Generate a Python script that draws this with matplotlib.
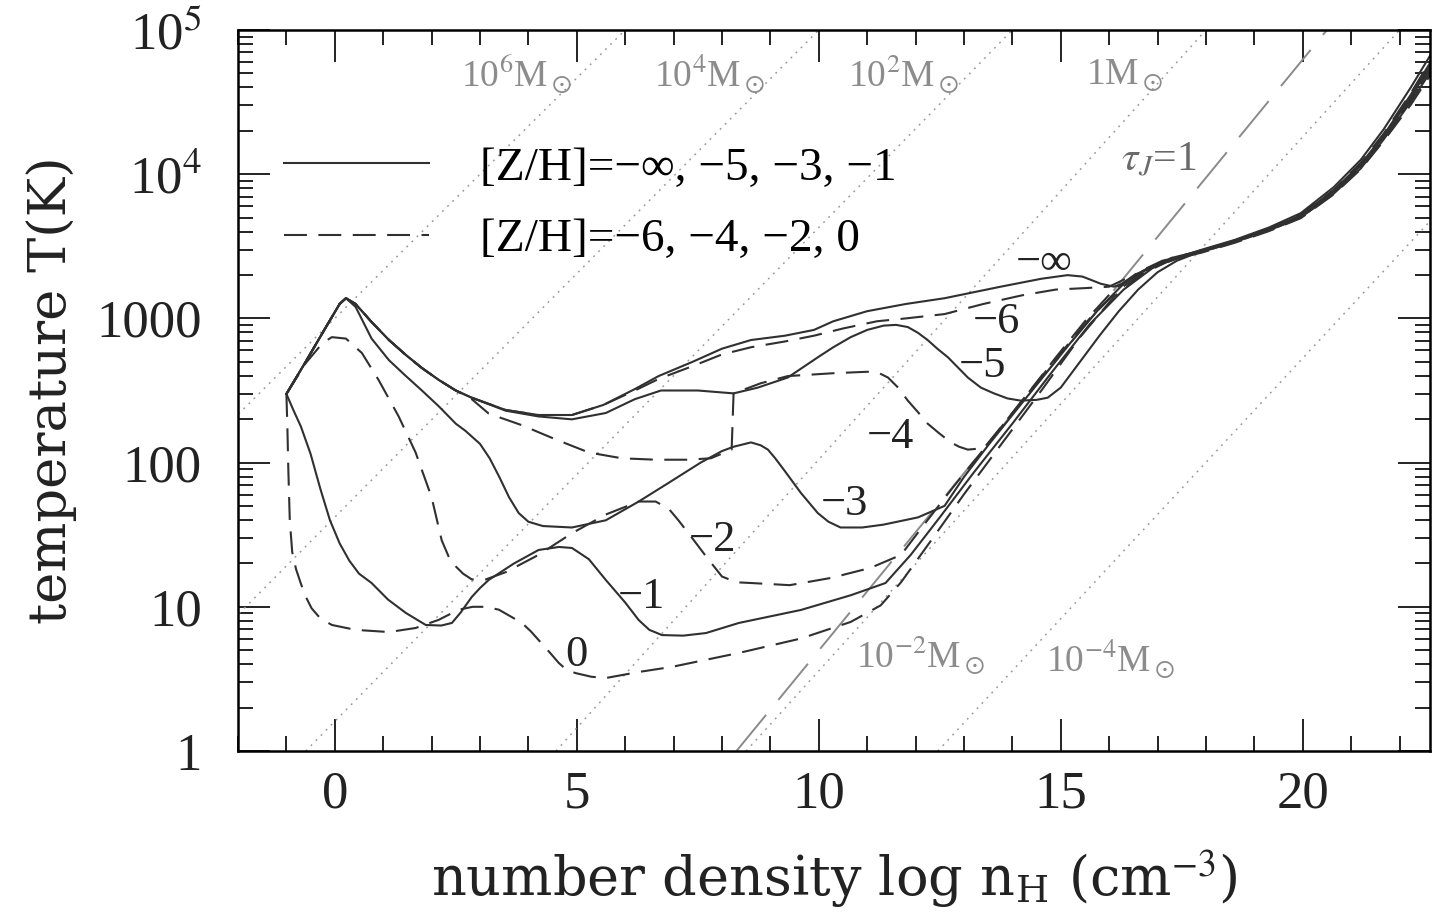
import numpy as np
import matplotlib.pyplot as plt
from matplotlib.lines import Line2D
from matplotlib.ticker import FixedLocator, FixedFormatter, MultipleLocator, LogLocator, NullFormatter

plt.rcParams['font.family'] = ['Liberation Serif', 'DejaVu Serif']
plt.rcParams['mathtext.fontset'] = 'stix'

# log n_H and log T, one pair of lists per metallicity
x_minf = [-1.0, -0.6, -0.2, 0.1, 0.23, 0.43, 0.76, 1.12, 1.47, 1.8, 2.15, 2.5, 2.83, 3.53, 4.21, 4.9, 5.55, 6.2,
          6.69, 7.4, 8.0, 8.6, 9.3, 9.9, 10.3, 11.0, 11.8, 12.6, 13.76, 14.6, 15.14, 15.45, 15.83, 16.1, 16.24, 16.7,
          17.2, 17.9, 18.6, 19.3, 19.96, 20.64, 21.2, 21.67, 22.23, 22.7]
lt_minf = [2.476, 2.70, 2.93, 3.10, 3.14, 3.10, 2.975, 2.85, 2.746, 2.656, 2.573, 2.50, 2.45, 2.365, 2.33, 2.33, 2.40,
           2.51, 2.60, 2.70, 2.79, 2.85, 2.88, 2.92, 2.98, 3.05, 3.10, 3.14, 3.22, 3.275, 3.30, 3.29, 3.24, 3.22, 3.235,
           3.33, 3.40, 3.475, 3.545, 3.63, 3.73, 3.91, 4.10, 4.31, 4.60, 4.86]

x_m6 = [-1.0, -0.6, -0.2, 0.1, 0.23, 0.43, 0.76, 1.12, 1.47, 1.8, 2.15, 2.5, 2.83, 3.53, 4.21, 4.9, 5.55, 6.2, 6.69,
        7.4, 8.0, 8.6, 9.3, 9.9, 10.5, 11.2, 11.8, 12.6, 13.4, 14.2, 14.9, 15.5, 16.0, 16.5, 17.2, 17.9, 18.6, 19.3,
        19.96, 20.64, 21.2, 21.67, 22.23, 22.7]
lt_m6 = [2.476, 2.70, 2.93, 3.10, 3.14, 3.10, 2.975, 2.85, 2.746, 2.656, 2.573, 2.50, 2.45, 2.365, 2.33, 2.33, 2.40,
         2.50, 2.58, 2.67, 2.75, 2.80, 2.84, 2.88, 2.93, 2.98, 3.00, 3.03, 3.10, 3.16, 3.20, 3.21, 3.22, 3.30, 3.39,
         3.47, 3.54, 3.62, 3.72, 3.89, 4.08, 4.28, 4.56, 4.82]

x_m5 = [-1.0, -0.6, -0.2, 0.1, 0.23, 0.43, 0.76, 1.12, 1.47, 1.8, 2.15, 2.5, 2.83, 3.53, 4.21, 4.9, 5.6, 6.2, 6.74,
        7.5, 8.24, 8.74, 9.36, 9.98, 10.3, 10.66, 11.0, 11.34, 11.6, 11.84, 12.05, 12.25, 12.45, 12.67, 13.08, 13.35,
        13.62, 13.9, 14.17, 14.5, 14.73, 15.0, 15.4, 15.8, 16.2, 16.6, 17.0, 17.4, 17.9, 18.6, 19.3, 19.96, 20.64,
        21.2, 21.67, 22.23, 22.7]
lt_m5 = [2.476, 2.70, 2.93, 3.10, 3.14, 3.10, 2.975, 2.85, 2.746, 2.656, 2.573, 2.50, 2.45, 2.36, 2.32, 2.30, 2.344,
         2.44, 2.50, 2.50, 2.48, 2.52, 2.59, 2.73, 2.80, 2.87, 2.92, 2.95, 2.955, 2.94, 2.90, 2.85, 2.79, 2.73, 2.59,
         2.52, 2.48, 2.445, 2.43, 2.435, 2.45, 2.52, 2.70, 2.88, 3.05, 3.20, 3.32, 3.40, 3.465, 3.535, 3.615, 3.71,
         3.88, 4.06, 4.26, 4.53, 4.79]

x_m4 = [-1.0, -0.6, -0.2, 0.1, 0.23, 0.43, 0.76, 1.12, 1.47, 1.8, 2.15, 2.5, 2.83, 3.18, 3.86, 4.57, 5.25, 5.93, 6.63,
        7.3, 7.77, 8.2, 8.24, 8.8, 9.36, 10.31, 11.01, 11.25, 11.43, 11.64, 11.84, 12.05, 12.25, 12.5, 12.73, 12.9,
        13.08, 13.41, 13.8, 14.3, 14.9, 15.5, 16.1, 16.6, 17.1, 17.9, 18.6, 19.3, 19.96, 20.64, 21.2, 21.67, 22.23,
        22.7]
lt_m4 = [2.476, 2.70, 2.93, 3.10, 3.14, 3.10, 2.975, 2.85, 2.746, 2.656, 2.573, 2.50, 2.44, 2.34, 2.26, 2.16, 2.07,
         2.03, 2.02, 2.02, 2.03, 2.09, 2.48, 2.55, 2.60, 2.62, 2.63, 2.62, 2.59, 2.52, 2.43, 2.35, 2.27, 2.20, 2.14,
         2.11, 2.09, 2.10, 2.26, 2.47, 2.73, 2.98, 3.20, 3.32, 3.40, 3.46, 3.53, 3.61, 3.70, 3.87, 4.05, 4.25, 4.51,
         4.77]

x_m3 = [-1.0, -0.6, -0.2, 0.1, 0.23, 0.43, 0.76, 1.12, 1.47, 1.8, 2.15, 2.5, 2.7, 3.0, 3.2, 3.4, 3.6, 3.8, 4.0, 4.3,
        4.9, 5.6, 6.28, 6.9, 7.56, 8.0, 8.24, 8.6, 8.8, 8.95, 9.1, 9.28, 9.63, 9.98, 10.2, 10.45, 10.9, 11.34, 12.05,
        12.6, 13.0, 13.5, 14.0, 14.6, 15.2, 15.8, 16.3, 16.8, 17.3, 17.9, 18.6, 19.3, 19.96, 20.64, 21.2, 21.67,
        22.23, 22.7]
lt_m3 = [2.476, 2.70, 2.93, 3.10, 3.14, 3.08, 2.86, 2.71, 2.60, 2.50, 2.39, 2.27, 2.22, 2.13, 2.03, 1.90, 1.76, 1.65,
         1.59, 1.56, 1.55, 1.60, 1.73, 1.86, 2.0, 2.08, 2.11, 2.14, 2.12, 2.09, 2.03, 1.95, 1.79, 1.65, 1.59, 1.55,
         1.55, 1.57, 1.62, 1.70, 1.90, 2.12, 2.33, 2.58, 2.83, 3.07, 3.24, 3.35, 3.42, 3.47, 3.54, 3.62, 3.715, 3.89,
         4.07, 4.27, 4.55, 4.81]

x_m2 = [-1.0, -0.6, -0.25, -0.06, 0.23, 0.56, 0.91, 1.32, 1.67, 2.0, 2.21, 2.35, 2.5, 2.65, 2.83, 3.12, 3.53, 4.21,
        4.9, 5.6, 6.28, 6.63, 6.9, 7.1, 7.4, 7.67, 8.0, 8.3, 8.6, 9.4, 10.25, 11.07, 11.7, 12.2, 12.8, 13.5, 14.2,
        14.9, 15.6, 16.2, 16.8, 17.3, 17.9, 18.6, 19.3, 19.96, 20.64, 21.2, 21.67, 22.23, 22.7]
lt_m2 = [2.476, 2.69, 2.83, 2.87, 2.86, 2.76, 2.57, 2.32, 2.07, 1.76, 1.46, 1.35, 1.28, 1.23, 1.19, 1.19, 1.24, 1.36,
         1.51, 1.64, 1.73, 1.73, 1.68, 1.60, 1.47, 1.35, 1.21, 1.17, 1.165, 1.15, 1.20, 1.27, 1.36, 1.58, 1.84, 2.13,
         2.43, 2.72, 3.0, 3.2, 3.34, 3.42, 3.465, 3.535, 3.615, 3.705, 3.875, 4.055, 4.255, 4.52, 4.76]

x_m1 = [-1.0, -0.85, -0.7, -0.5, -0.3, -0.1, 0.1, 0.3, 0.5, 0.76, 1.1, 1.47, 1.88, 2.2, 2.42, 2.6, 2.83, 3.0, 3.18,
        3.7, 4.21, 4.63, 4.9, 5.25, 5.6, 6.0, 6.28, 6.5, 6.76, 7.2, 7.67, 8.35, 9.63, 10.66, 11.38, 11.9, 12.5, 13.2,
        14.0, 14.8, 15.6, 16.3, 16.9, 17.4, 17.9, 18.6, 19.3, 19.96, 20.64, 21.2, 21.67, 22.23, 22.7]
lt_m1 = [2.476, 2.36, 2.25, 2.06, 1.82, 1.60, 1.44, 1.32, 1.23, 1.165, 1.05, 0.957, 0.874, 0.87, 0.888, 0.96, 1.068,
         1.13, 1.186, 1.30, 1.394, 1.415, 1.408, 1.33, 1.186, 1.03, 0.908, 0.84, 0.804, 0.80, 0.818, 0.888, 0.978,
         1.08, 1.165, 1.36, 1.62, 1.93, 2.27, 2.62, 2.96, 3.2, 3.35, 3.42, 3.46, 3.53, 3.61, 3.70, 3.865, 4.04, 4.24,
         4.50, 4.74]

x_0 = [-1.0, -0.98, -0.96, -0.93, -0.88, -0.8, -0.7, -0.6, -0.48, -0.3, -0.06, 0.43, 1.12, 1.67, 2.15, 2.56, 2.85,
       3.12, 3.39, 3.65, 3.86, 4.05, 4.21, 4.45, 4.63, 4.8, 4.98, 5.3, 5.6, 6.28, 6.96, 8.35, 9.63, 10.66, 11.28,
       11.7, 12.3, 13.0, 13.8, 14.6, 15.4, 16.1, 16.7, 17.3, 17.9, 18.6, 19.3, 19.96, 20.64, 21.2, 21.67, 22.23, 22.7]
lt_0 = [2.476, 2.25, 1.95, 1.60, 1.38, 1.26, 1.16, 1.07, 0.99, 0.92, 0.874, 0.84, 0.825, 0.853, 0.91, 0.98, 1.0, 1.0,
        0.98, 0.93, 0.89, 0.83, 0.77, 0.68, 0.61, 0.56, 0.54, 0.515, 0.506, 0.548, 0.583, 0.68, 0.78, 0.895, 1.01,
        1.17, 1.45, 1.78, 2.14, 2.5, 2.87, 3.15, 3.31, 3.41, 3.455, 3.525, 3.605, 3.695, 3.86, 4.035, 4.23, 4.48, 4.72]

solid_curves = [(x_minf, lt_minf), (x_m5, lt_m5), (x_m3, lt_m3), (x_m1, lt_m1)]
dashed_curves = [(x_m6, lt_m6), (x_m4, lt_m4), (x_m2, lt_m2), (x_0, lt_0)]

curve_labels = ['\u2212\u221e', '\u22126', '\u22125', '\u22124', '\u22123', '\u22122', '\u22121', '0']
label_x = [14.07, 13.18, 12.89, 10.99, 10.04, 7.31, 5.85, 4.77]
label_T = [2420, 945, 470, 150, 52, 29, 11.7, 4.6]

# Jeans mass lines: log n_H where each crosses T=1e5 and T=1
jeans_mass = [r'10$^6$M$_\odot$', r'10$^4$M$_\odot$', r'10$^2$M$_\odot$', r'1M$_\odot$',
              r'10$^{-2}$M$_\odot$', r'10$^{-4}$M$_\odot$']
jeans_x_top = [6.0, 10.0, 14.0, 18.0, 22.0, 26.3]
jeans_x_bot = [-9.0, -4.8, -0.6, 4.57, 8.5, 12.46]
jeans_lab_x = [2.6, 6.59, 10.6, 15.52, 10.76, 14.69]
jeans_lab_T = [49000, 49000, 49000, 49000, 4.6, 4.3]

# tau_J = 1 line
tau_x = [8.3, 20.5]
tau_T = [1.0, 1e5]

fig = plt.figure(figsize=(14.32, 9.16), dpi=100)
ax = fig.add_axes([238 / 1432, 165 / 916, 1192 / 1432, 721 / 916])

for xb, xt in zip(jeans_x_bot, jeans_x_top):
    ax.plot([xb, xt], [1.0, 1e5], color='#9a9a9a', lw=1.1, linestyle=(0, (1.2, 3.5)))
for s, xl, tl in zip(jeans_mass, jeans_lab_x, jeans_lab_T):
    ax.text(xl, tl, s, color='#8c8c8c', fontsize=27, ha='left', va='center')

ax.plot(tau_x, tau_T, color='#8a8a8a', lw=1.4, linestyle=(0, (24, 10)))
ax.text(16.24, 12500, r'$\tau_J$=1', color='#6a6a6a', fontsize=30, ha='left', va='center')

for xs, ls in solid_curves:
    ax.plot(xs, 10 ** np.array(ls), color='#303030', lw=1.5)
for xs, ls in dashed_curves:
    ax.plot(xs, 10 ** np.array(ls), color='#303030', lw=1.5, linestyle=(0, (11, 5.5)))

for s, xl, tl in zip(curve_labels, label_x, label_T):
    ax.text(xl, tl, s, color='#222222', fontsize=32, ha='left', va='center')

handles = [Line2D([], [], color='#303030', lw=1.5),
           Line2D([], [], color='#303030', lw=1.5, linestyle=(0, (11, 5.5)))]
leg = ax.legend(handles, ['[Z/H]=\u2212\u221e, \u22125, \u22123, \u22121', '[Z/H]=\u22126, \u22124, \u22122, 0'],
                loc='upper left', bbox_to_anchor=(0.039, 0.838), frameon=False, fontsize=34,
                handlelength=3.07, handletextpad=1.06, labelspacing=0.6, borderpad=0, borderaxespad=0)

ax.set_yscale('log')
ax.set_xlim(-2, 22.63)
ax.set_ylim(1, 1e5)

ax.xaxis.set_major_locator(MultipleLocator(5))
ax.xaxis.set_minor_locator(MultipleLocator(1))
ax.yaxis.set_major_locator(FixedLocator([1, 10, 100, 1000, 1e4, 1e5]))
ax.yaxis.set_major_formatter(FixedFormatter(['1', '10', '100', '1000', r'10$^4$', r'10$^5$']))
ax.yaxis.set_minor_locator(LogLocator(base=10, subs=np.arange(2, 10)))
ax.yaxis.set_minor_formatter(NullFormatter())

ax.tick_params(which='both', direction='in', top=True, right=True, width=1.4, colors='#222222')
ax.tick_params(which='major', length=23, labelsize=38)
ax.tick_params(axis='x', which='major', pad=14)
ax.tick_params(axis='y', which='major', pad=26)
ax.tick_params(which='minor', length=11)
for sp in ax.spines.values():
    sp.set_linewidth(1.8)

ax.set_xlabel(r'number density log n$_\mathregular{H}$ (cm$^{-3}$)', fontsize=39, family='DejaVu Serif',
              labelpad=22, color='#222222')
ax.set_ylabel('temperature T(K)', fontsize=38, family='DejaVu Serif', labelpad=14, color='#222222')

fig.savefig('out.png', dpi=100)
